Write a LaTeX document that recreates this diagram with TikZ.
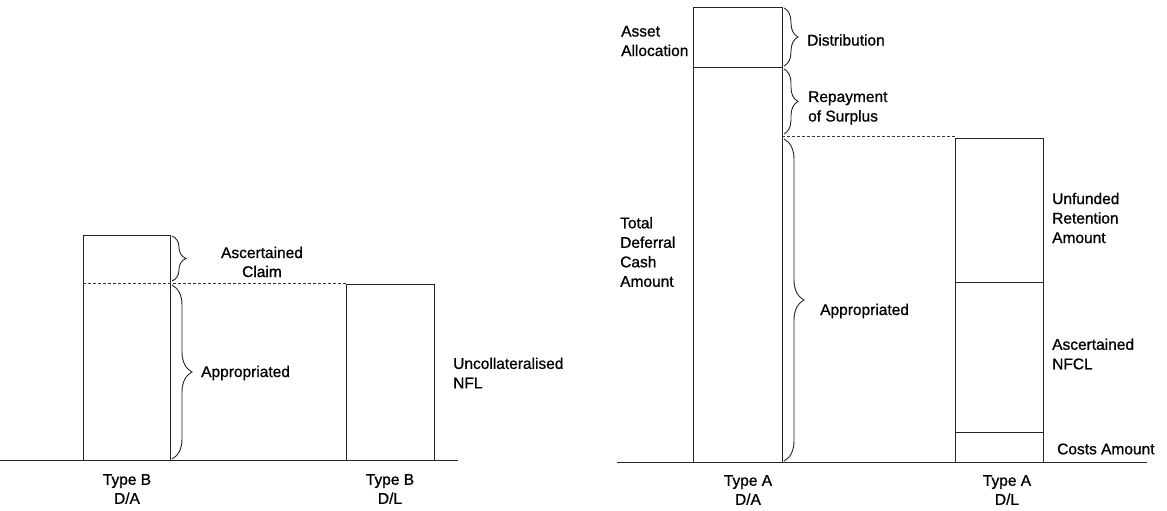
\documentclass[tikz,border=0pt]{standalone}
\usepackage{fontspec}
\setmainfont{Liberation Sans}[BoldFont={Liberation Sans},BoldFeatures={FakeBold=0.9}]
\usetikzlibrary{decorations.pathreplacing}
\begin{document}
\begin{tikzpicture}[x=1pt,y=-1pt,
  bar/.style={draw=black!85,line width=0.9pt},
  ground/.style={draw=black!85,line width=1pt},
  level/.style={draw=black!80,line width=0.8pt,dash pattern=on 3pt off 2pt},
  bracket/.style={draw=black!85,line width=0.9pt,decorate,decoration={brace,amplitude=#1}},
  lbl/.style={font=\fontsize{15.5}{19.5}\selectfont\bfseries,align=left,anchor=west,inner sep=0pt},
  barname/.style={font=\fontsize{15.5}{19}\selectfont\bfseries,align=center,inner sep=0pt}]
\useasboundingbox (0,0) rectangle (1167,511);

% ---------- Type B ----------
\coordinate (bl0) at (0,460);
\coordinate (bl1) at (458,460);
\draw[ground] (bl0) -- (bl1);

% D/A bar
\coordinate (bda-nw) at (83,235);
\coordinate (bda-se) at (170,460);
\draw[bar] (bda-nw) rectangle (bda-se);
% D/L bar
\coordinate (bdl-nw) at (346,284);
\coordinate (bdl-se) at (434,460);
\draw[bar] (bdl-nw) rectangle (bdl-se);
% claim level
\coordinate (blev0) at (83,283);
\coordinate (blev1) at (346,283);
\draw[level] (blev0) -- (blev1);

% braces
\coordinate (bb1t) at (172,236);
\coordinate (bb1b) at (172,281);
\coordinate (bb2t) at (172,285);
\coordinate (bb2b) at (172,459);
\draw[bracket=14pt] (bb1t) -- (bb1b);
\draw[bracket=20pt] (bb2t) -- (bb2b);

\node[barname] (claim) at (262,262) {Ascertained\\Claim};
\node[lbl] (bapp) at (201,373) {Appropriated};
\node[lbl] (unc) at (453,373) {Uncollateralised\\NFL};
\node[barname] (bda) at (127,489) {Type B\\D/A};
\node[barname] (bdl) at (390,489) {Type B\\D/L};

% ---------- Type A ----------
\coordinate (al0) at (617,462);
\coordinate (al1) at (1147,462);
\draw[ground] (al0) -- (al1);

% D/A bar
\coordinate (ada-nw) at (693,7);
\coordinate (ada-se) at (782,462);
\draw[bar] (ada-nw) rectangle (ada-se);
\coordinate (ada-l) at (693,67);
\coordinate (ada-r) at (782,67);
\draw[bar] (ada-l) -- (ada-r);

% D/L bar
\coordinate (adl-nw) at (955,138);
\coordinate (adl-se) at (1043,462);
\draw[bar] (adl-nw) rectangle (adl-se);
\coordinate (adl-l1) at (955,282);
\coordinate (adl-r1) at (1043,282);
\coordinate (adl-l2) at (955,432);
\coordinate (adl-r2) at (1043,432);
\draw[bar] (adl-l1) -- (adl-r1);
\draw[bar] (adl-l2) -- (adl-r2);

% surplus level
\coordinate (alev0) at (782,136);
\coordinate (alev1) at (955,136);
\draw[level] (alev0) -- (alev1);

% braces
\coordinate (ab1t) at (784,8);
\coordinate (ab1b) at (784,66);
\coordinate (ab2t) at (784,69);
\coordinate (ab2b) at (784,134);
\coordinate (ab3t) at (784,139);
\coordinate (ab3b) at (784,461);
\draw[bracket=14pt] (ab1t) -- (ab1b);
\draw[bracket=14pt] (ab2t) -- (ab2b);
\draw[bracket=20pt] (ab3t) -- (ab3b);

\node[lbl] (alloc) at (621,41) {Asset\\Allocation};
\node[lbl] (dist) at (807,40) {Distribution};
\node[lbl] (repay) at (808,108) {Repayment\\of Surplus};
\node[lbl] (aapp) at (820,311) {Appropriated};
\node[lbl] (total) at (620,252) {Total\\Deferral\\Cash\\Amount};
\node[lbl] (unf) at (1052,218) {Unfunded\\Retention\\Amount};
\node[lbl] (nfcl) at (1052,354) {Ascertained\\NFCL};
\node[lbl] (costs) at (1057,449) {Costs Amount};
\node[barname] (ada) at (748,490) {Type A\\D/A};
\node[barname] (adl) at (1007,490) {Type A\\D/L};
\end{tikzpicture}
\end{document}
